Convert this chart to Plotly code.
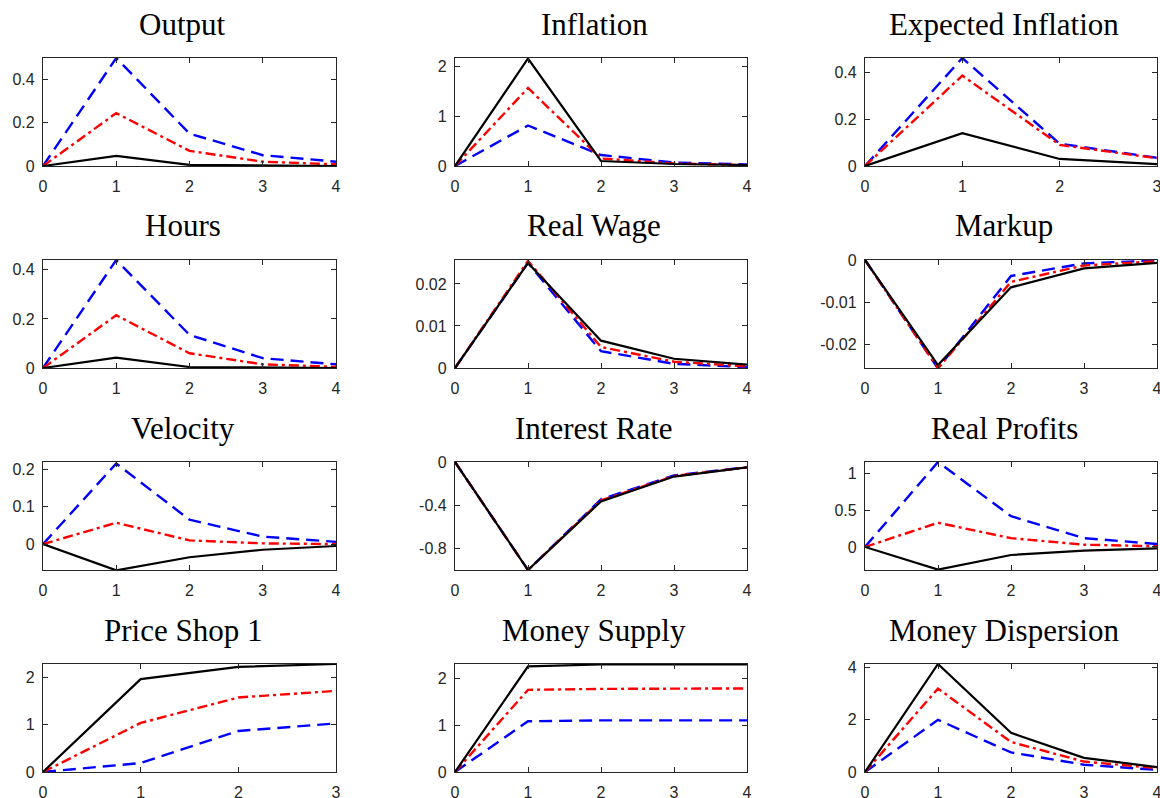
import plotly.graph_objects as go

W, H = 1160, 798

titles = ["Output", "Inflation", "Expected Inflation",
          "Hours", "Real Wage", "Markup",
          "Velocity", "Interest Rate", "Real Profits",
          "Price Shop 1", "Money Supply", "Money Dispersion"]

periods4 = [0, 1, 2, 3, 4]
periods3 = [0, 1, 2, 3]

# series per panel: black solid, red dash-dot, blue dashed
black = {
    "Output": [0, 0.047, 0.005, 0.001, 0.0],
    "Inflation": [0, 2.15, 0.10, 0.04, 0.02],
    "Expected Inflation": [0, 0.14, 0.03, 0.008],
    "Hours": [0, 0.042, 0.004, 0.001, 0.0],
    "Real Wage": [0, 0.0250, 0.0065, 0.0022, 0.0008],
    "Markup": [0, -0.0250, -0.0065, -0.0020, -0.0007],
    "Velocity": [0, -0.070, -0.035, -0.015, -0.005],
    "Interest Rate": [0, -1.0, -0.365, -0.135, -0.05],
    "Real Profits": [0, -0.31, -0.11, -0.05, -0.02],
    "Price Shop 1": [0, 1.97, 2.23, 2.29],
    "Money Supply": [0, 2.25, 2.29, 2.29, 2.29],
    "Money Dispersion": [0, 4.14, 1.50, 0.54, 0.19],
}
red = {
    "Output": [0, 0.245, 0.07, 0.02, 0.008],
    "Inflation": [0, 1.56, 0.15, 0.05, 0.02],
    "Expected Inflation": [0, 0.385, 0.09, 0.033],
    "Hours": [0, 0.215, 0.06, 0.015, 0.005],
    "Real Wage": [0, 0.0255, 0.0050, 0.0015, 0.0004],
    "Markup": [0, -0.0258, -0.0052, -0.0013, -0.0003],
    "Velocity": [0, 0.057, 0.010, 0.002, 0.0],
    "Interest Rate": [0, -1.0, -0.355, -0.13, -0.05],
    "Real Profits": [0, 0.33, 0.12, 0.03, 0.01],
    "Price Shop 1": [0, 1.04, 1.58, 1.72],
    "Money Supply": [0, 1.75, 1.77, 1.78, 1.78],
    "Money Dispersion": [0, 3.20, 1.15, 0.40, 0.15],
}
blue = {
    "Output": [0, 0.50, 0.15, 0.05, 0.02],
    "Inflation": [0, 0.81, 0.22, 0.07, 0.03],
    "Expected Inflation": [0, 0.46, 0.095, 0.035],
    "Hours": [0, 0.44, 0.135, 0.04, 0.015],
    "Real Wage": [0, 0.0250, 0.0040, 0.0010, 0.0002],
    "Markup": [0, -0.0258, -0.0038, -0.0008, -0.0001],
    "Velocity": [0, 0.215, 0.065, 0.020, 0.006],
    "Interest Rate": [0, -1.0, -0.345, -0.125, -0.048],
    "Real Profits": [0, 1.16, 0.42, 0.12, 0.04],
    "Price Shop 1": [0, 0.19, 0.87, 1.03],
    "Money Supply": [0, 1.08, 1.10, 1.10, 1.10],
    "Money Dispersion": [0, 2.00, 0.75, 0.28, 0.08],
}

y_ranges = {
    "Output": [0, 0.5], "Inflation": [0, 2.16], "Expected Inflation": [0, 0.46],
    "Hours": [0, 0.44], "Real Wage": [0, 0.0257], "Markup": [-0.0257, 0],
    "Velocity": [-0.069, 0.219], "Interest Rate": [-1.0, 0], "Real Profits": [-0.315, 1.16],
    "Price Shop 1": [0, 2.29], "Money Supply": [0, 2.3], "Money Dispersion": [0, 4.14],
}
y_tickvals = {
    "Output": [0, 0.2, 0.4], "Inflation": [0, 1, 2], "Expected Inflation": [0, 0.2, 0.4],
    "Hours": [0, 0.2, 0.4], "Real Wage": [0, 0.01, 0.02], "Markup": [-0.02, -0.01, 0],
    "Velocity": [0, 0.1, 0.2], "Interest Rate": [-0.8, -0.4, 0], "Real Profits": [0, 0.5, 1],
    "Price Shop 1": [0, 1, 2], "Money Supply": [0, 1, 2], "Money Dispersion": [0, 2, 4],
}
y_ticktext = {
    "Output": ["0", "0.2", "0.4"], "Inflation": ["0", "1", "2"], "Expected Inflation": ["0", "0.2", "0.4"],
    "Hours": ["0", "0.2", "0.4"], "Real Wage": ["0", "0.01", "0.02"], "Markup": ["-0.02", "-0.01", "0"],
    "Velocity": ["0", "0.1", "0.2"], "Interest Rate": ["-0.8", "-0.4", "0"], "Real Profits": ["0", "0.5", "1"],
    "Price Shop 1": ["0", "1", "2"], "Money Supply": ["0", "1", "2"], "Money Dispersion": ["0", "2", "4"],
}

# layout in page pixels
col_px = [(43, 336), (455, 747), (865, 1157)]
row_px = [(58, 166), (260, 368), (462, 570), (664, 772)]

AX = "#262626"
fig = go.Figure()
annotations = []
for i, name in enumerate(titles):
    r, c = divmod(i, 3)
    n = i + 1
    xa = "x" if n == 1 else f"x{n}"
    ya = "y" if n == 1 else f"y{n}"
    xs = periods3 if len(black[name]) == 4 else periods4
    for vals, color, dash, lw in [(blue[name], "#0000ff", "13px,7px", 2.4),
                                  (red[name], "#ff0000", "10px,4px,3px,4px", 2.4),
                                  (black[name], "#000000", "solid", 2.2)]:
        fig.add_trace(go.Scatter(x=xs, y=vals, mode="lines", xaxis=xa, yaxis=ya,
                                 line=dict(color=color, width=lw, dash=dash),
                                 showlegend=False, hoverinfo="skip"))
    x0, x1 = col_px[c]
    y0, y1 = row_px[r]
    common = dict(showline=True, linecolor=AX, linewidth=1.3, mirror="ticks",
                  ticks="inside", ticklen=5, tickcolor=AX, tickwidth=1.3,
                  showgrid=False, zeroline=False, automargin=False,
                  ticklabeloverflow="allow",
                  tickfont=dict(family="Liberation Sans, Arial", size=16, color=AX))
    fig.layout[xa.replace("x", "xaxis")] = dict(
        domain=[x0 / W, x1 / W], anchor=ya, range=[0, xs[-1]],
        tickvals=xs, ticktext=[str(v) for v in xs], ticklabelstandoff=6, **common)
    fig.layout[ya.replace("y", "yaxis")] = dict(
        domain=[1 - y1 / H, 1 - y0 / H], anchor=xa, range=y_ranges[name],
        tickvals=y_tickvals[name], ticktext=y_ticktext[name], ticklabelstandoff=4, **common)
    annotations.append(dict(text=name, xref="paper", yref="paper",
                            x=((x0 + x1) / 2 - 7) / W, y=1 - (y0 - 34) / H,
                            xanchor="center", yanchor="middle", showarrow=False,
                            font=dict(family="Liberation Serif, Times New Roman", size=31, color="#000000")))

fig.update_layout(width=W, height=H, margin=dict(l=0, r=0, t=0, b=0, pad=0),
                  paper_bgcolor="white", plot_bgcolor="white",
                  annotations=annotations)
fig.write_html("out.html", config={"displayModeBar": False},
               post_script="document.body.style.margin='0';document.body.style.overflow='hidden';"
                           "document.documentElement.style.overflow='hidden';")
